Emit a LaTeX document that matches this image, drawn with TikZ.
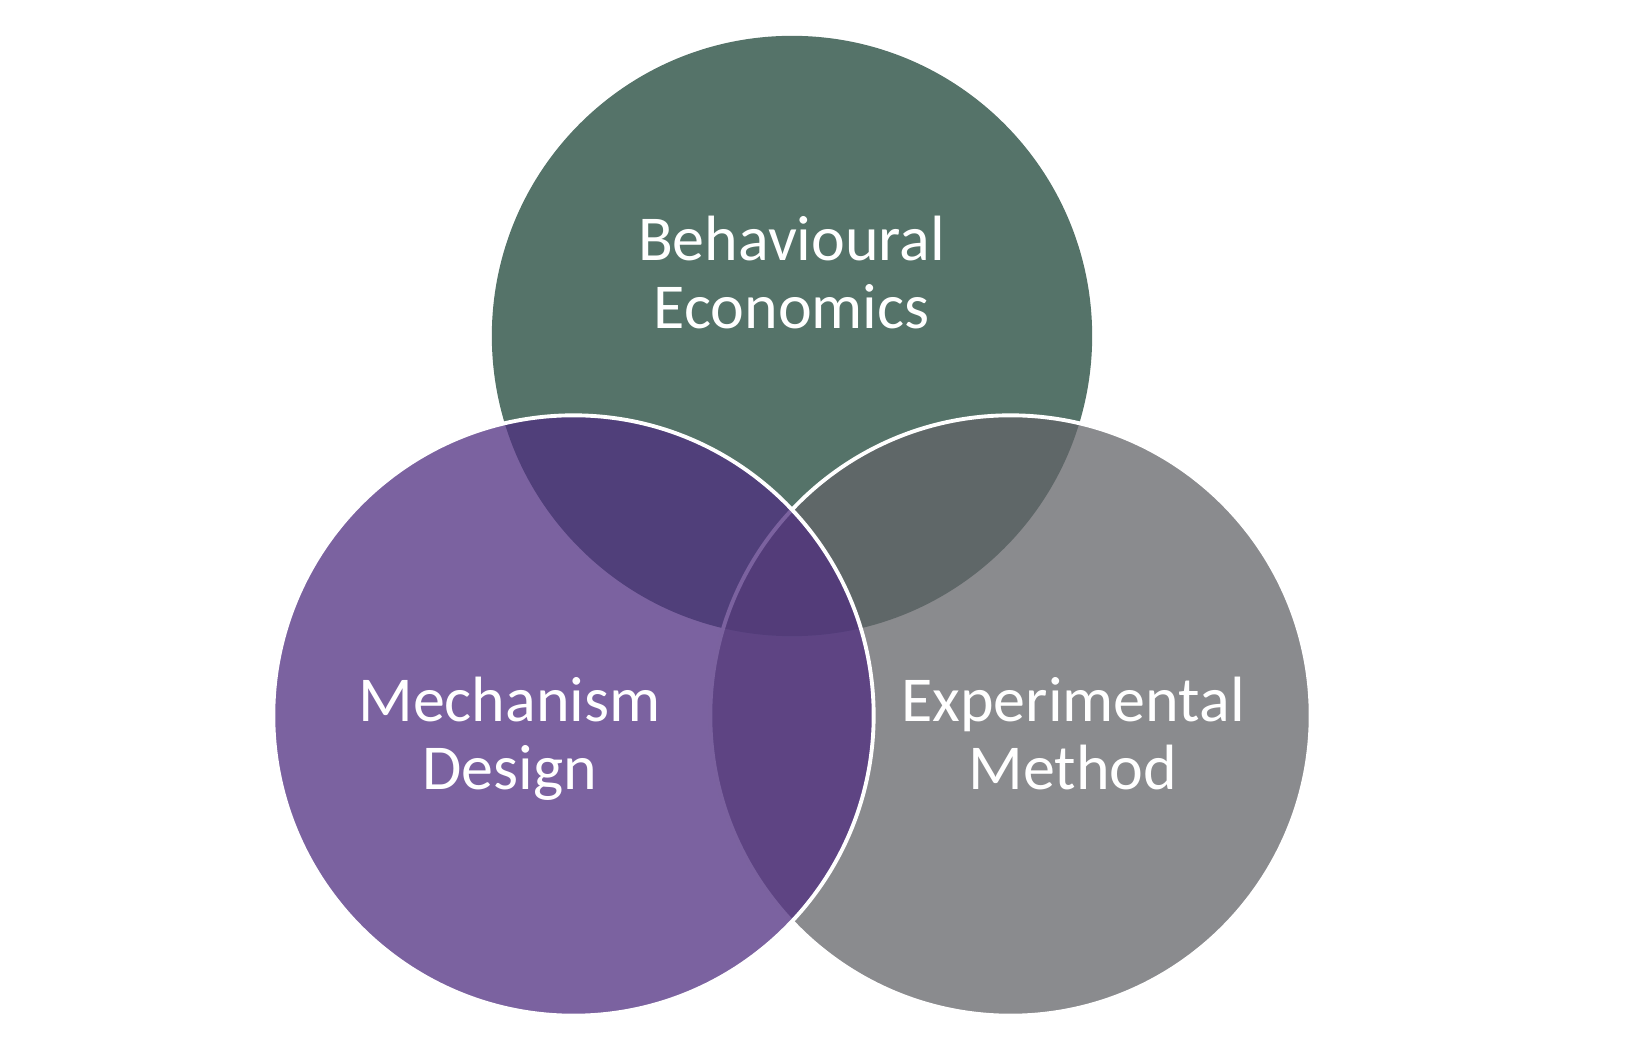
\documentclass[tikz,border=0pt]{standalone}
\usepackage{fontspec}
\setmainfont{Carlito}
\usetikzlibrary{positioning}
\definecolor{econgreen}{RGB}{85,115,105}
\definecolor{exptgray}{RGB}{99,100,104}
\definecolor{mechpurple}{RGB}{79,46,128}
\tikzset{every picture/.style={line width=1.1pt}}
\tikzset{
    venn/.style={circle, minimum size=6cm, inner sep=0pt},
    vennlabel/.style={text=white, align=center, anchor=base,
        font=\fontsize{18.2}{19.6}\selectfont},
}

\begin{document}
\begin{tikzpicture}[x=0.01cm, y=-0.01cm]
    \useasboundingbox (0,0) rectangle (1650,1052);
    \node[venn, fill=econgreen] (econ) at (792,336) {};
    \node[venn, fill=exptgray, fill opacity=0.75, draw=white] (expt) at (1010.5,715.5) {};
    \node[venn, fill=mechpurple, fill opacity=0.75, draw=white] (mech) at (573.5,715.5) {};
    % base anchor sits on the last line
    \node[vennlabel] (econtext) at (791.7,329) {Behavioural\\Economics};
    \node[vennlabel] (mechtext) at (509.5,790) {Mechanism\\Design};
    \node[vennlabel] (expttext) at (1073,790) {Experimental\\Method};
\end{tikzpicture}
\end{document}
